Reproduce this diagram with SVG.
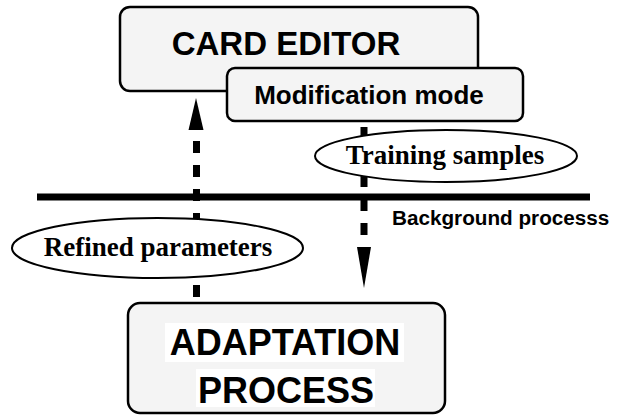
<svg xmlns="http://www.w3.org/2000/svg" width="623" height="416" viewBox="0 0 623 416">
  <style>
    .box { fill: #f4f4f4; stroke: #000; stroke-width: 2.5; }
    .oval { fill: #fff; stroke: #000; stroke-width: 2; }
    .sans { font-family: "Liberation Sans", Arial, sans-serif; font-weight: bold; fill: #000; }
    .serif { font-family: "Liberation Serif", "Times New Roman", serif; font-weight: bold; fill: #000; }
    .dash { stroke: #000; stroke-width: 7; stroke-dasharray: 12 12; fill: none; }
    .head { fill: #000; }
  </style>
  <rect width="623" height="416" fill="#fff"/>
  <g id="card-editor">
    <rect class="box" x="120" y="7" width="358" height="84" rx="10"/>
    <text class="sans" x="286" y="55" font-size="33" text-anchor="middle">CARD EDITOR</text>
  </g>
  <g id="modification-mode">
    <rect class="box" x="227" y="68" width="296" height="53" rx="8"/>
    <text class="sans" x="369" y="104" font-size="26" text-anchor="middle">Modification mode</text>
  </g>
  <g id="background-line">
    <line x1="37" y1="197" x2="590" y2="197" stroke="#000" stroke-width="7"/>
    <text class="sans" x="392" y="225" font-size="20.7">Background processs</text>
  </g>
  <g id="connectors">
    <line class="dash" x1="196.5" y1="297" x2="196.5" y2="129"/>
    <polygon class="head" points="196,98 188.5,130 203.5,130"/>
    <line class="dash" x1="364" y1="127" x2="364" y2="246"/>
    <polygon class="head" points="357,247 371,247 364,288"/>
  </g>
  <g id="training-samples">
    <ellipse class="oval" cx="446" cy="156" rx="131" ry="26"/>
    <text class="serif" x="445" y="164" font-size="27" text-anchor="middle">Training samples</text>
  </g>
  <g id="refined-parameters">
    <ellipse class="oval" cx="157.5" cy="248" rx="145.5" ry="30"/>
    <text class="serif" x="158" y="256" font-size="27" text-anchor="middle">Refined parameters</text>
  </g>
  <g id="adaptation-process">
    <rect class="box" x="128" y="303" width="317" height="110" rx="12"/>
    <rect x="165" y="323" width="239" height="39" fill="#fff"/>
    <rect x="196" y="369" width="179" height="38" fill="#fff"/>
    <text class="sans" x="285" y="355" font-size="36" text-anchor="middle">ADAPTATION</text>
    <text class="sans" x="286" y="403" font-size="36" text-anchor="middle">PROCESS</text>
  </g>
</svg>
